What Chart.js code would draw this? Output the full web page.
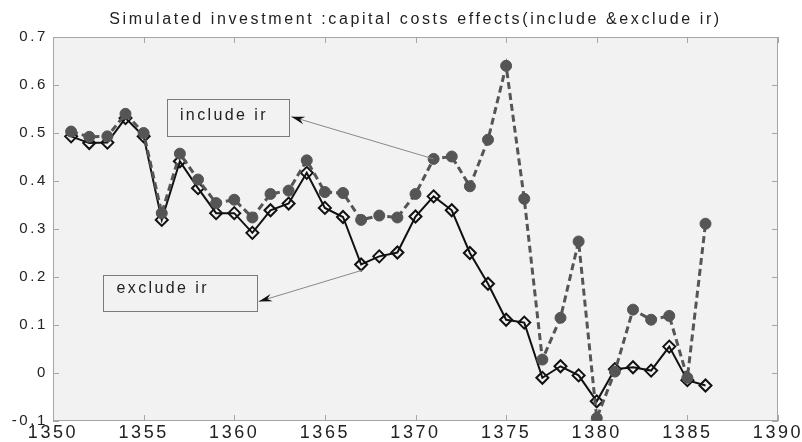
<!DOCTYPE html>
<html>
<head>
<meta charset="utf-8">
<script src="https://cdn.jsdelivr.net/npm/chart.js@4.4.0/dist/chart.umd.min.js"></script>
<style>
  html, body { margin: 0; padding: 0; background: #fff; }
  #wrap { width: 802px; height: 442px; }
</style>
</head>
<body>
<div id="wrap"><canvas id="mycanvas"></canvas></div>
<script>
var years = [1351, 1352, 1353, 1354, 1355, 1356, 1357, 1358, 1359, 1360, 1361, 1362,
             1363, 1364, 1365, 1366, 1367, 1368, 1369, 1370, 1371, 1372, 1373, 1374,
             1375, 1376, 1377, 1378, 1379, 1380, 1381, 1382, 1383, 1384, 1385, 1386];
var includeIr = [0.503, 0.492, 0.493, 0.540, 0.500, 0.333, 0.457, 0.403, 0.354, 0.361, 0.324, 0.373,
                 0.380, 0.443, 0.377, 0.375, 0.319, 0.328, 0.324, 0.373, 0.446, 0.451, 0.389, 0.486,
                 0.640, 0.363, 0.028, 0.115, 0.274, -0.094, 0.003, 0.132, 0.111, 0.119, -0.010, 0.311];
var excludeIr = [0.493, 0.479, 0.480, 0.531, 0.493, 0.319, 0.441, 0.385, 0.333, 0.333, 0.292, 0.339,
                 0.353, 0.417, 0.344, 0.325, 0.226, 0.243, 0.251, 0.326, 0.368, 0.339, 0.250, 0.186,
                 0.111, 0.105, -0.010, 0.014, -0.005, -0.059, 0.008, 0.012, 0.005, 0.055, -0.015, -0.026];
var xTicks = [1350, 1355, 1360, 1365, 1370, 1375, 1380, 1385, 1390];
var yTicks = [-0.1, 0, 0.1, 0.2, 0.3, 0.4, 0.5, 0.6, 0.7];
var titleText = "Simulated investment :capital costs effects(include &exclude ir)";

// text boxes with arrows, in data units
var notes = [
    { text: "include ir", box: [1356.3, 0.571, 1363.05, 0.494], textAt: [1357.0, 0.537],
      from: [1371, 0.446], to: [1363.15, 0.534] },
    { text: "exclude ir", box: [1352.75, 0.205, 1361.27, 0.130], textAt: [1353.5, 0.175],
      from: [1367.05, 0.214], to: [1361.35, 0.149] }
];

function pairs(vals) {
    return years.map(function (y, i) { return { x: y, y: vals[i] }; });
}

var fam = "'Liberation Sans', Arial, sans-serif";

// wide-set lettering like the original; x labels and title get their own spacing
var spacing = {
    id: "spacing",
    beforeDraw: function (chart) { chart.ctx.letterSpacing = "2.6px"; }
};

var frame = {
    id: "frame",
    beforeDatasetsDraw: function (chart) {
        var c = chart.ctx, a = chart.chartArea;
        var xs = chart.scales.x, ys = chart.scales.y;
        c.save();
        c.fillStyle = "#f2f2f2";
        c.fillRect(a.left, a.top, a.right - a.left, a.bottom - a.top);
        c.strokeStyle = "#a6a6a6";
        c.lineWidth = 1;
        c.strokeRect(a.left + 0.5, a.top + 0.5, a.right - a.left - 1, a.bottom - a.top - 1);
        c.beginPath();
        xTicks.forEach(function (t) {
            var px = Math.round(xs.getPixelForValue(t)) + 0.5;
            c.moveTo(px, a.bottom); c.lineTo(px, a.bottom - 6);
            c.moveTo(px, a.top); c.lineTo(px, a.top + 6);
        });
        yTicks.forEach(function (t) {
            var py = Math.round(ys.getPixelForValue(t)) + 0.5;
            c.moveTo(a.left, py); c.lineTo(a.left + 6, py);
            c.moveTo(a.right, py); c.lineTo(a.right - 6, py);
        });
        c.stroke();
        c.restore();
    },
    afterDatasetsDraw: function (chart) {
        var c = chart.ctx;
        var xs = chart.scales.x, ys = chart.scales.y;
        c.save();
        c.letterSpacing = "2.4px";
        notes.forEach(function (n) {
            var x0 = xs.getPixelForValue(n.box[0]), y0 = ys.getPixelForValue(n.box[1]);
            var x1 = xs.getPixelForValue(n.box[2]), y1 = ys.getPixelForValue(n.box[3]);
            c.strokeStyle = "#7a7a7a";
            c.lineWidth = 1;
            c.strokeRect(Math.round(x0) + 0.5, Math.round(y0) + 0.5, Math.round(x1 - x0), Math.round(y1 - y0));
            c.fillStyle = "#222";
            c.font = "16px " + fam;
            c.textBaseline = "middle";
            c.textAlign = "left";
            c.fillText(n.text, xs.getPixelForValue(n.textAt[0]), ys.getPixelForValue(n.textAt[1]));
            // arrow
            var fx = xs.getPixelForValue(n.from[0]), fy = ys.getPixelForValue(n.from[1]);
            var tx = xs.getPixelForValue(n.to[0]), ty = ys.getPixelForValue(n.to[1]);
            c.strokeStyle = "#888";
            c.beginPath(); c.moveTo(fx, fy); c.lineTo(tx, ty); c.stroke();
            var ang = Math.atan2(ty - fy, tx - fx);
            c.fillStyle = "#111";
            c.beginPath();
            c.moveTo(tx, ty);
            c.lineTo(tx - 14 * Math.cos(ang - 0.28), ty - 14 * Math.sin(ang - 0.28));
            c.lineTo(tx - 9 * Math.cos(ang), ty - 9 * Math.sin(ang));
            c.lineTo(tx - 14 * Math.cos(ang + 0.28), ty - 14 * Math.sin(ang + 0.28));
            c.closePath();
            c.fill();
        });
        c.restore();
    }
};

new Chart(document.getElementById("mycanvas"), {
    type: "line",
    data: {
        datasets: [
            {
                label: "include ir",
                data: pairs(includeIr),
                borderColor: "#555555",
                backgroundColor: "#555555",
                borderWidth: 3,
                borderDash: [7, 4],
                pointStyle: "circle",
                pointRadius: 5.5,
                pointBorderWidth: 1,
                pointBorderColor: "#555555",
                pointBackgroundColor: "#555555",
                tension: 0
            },
            {
                label: "exclude ir",
                data: pairs(excludeIr),
                borderColor: "#111111",
                borderWidth: 2,
                pointStyle: "rectRot",
                pointRadius: 6,
                pointBorderWidth: 2,
                pointBorderColor: "#111111",
                pointBackgroundColor: "rgba(242,242,242,0)",
                tension: 0
            }
        ]
    },
    options: {
        responsive: true,
        maintainAspectRatio: false,
        animation: false,
        layout: { padding: { top: 0, right: 24, left: 0, bottom: 0 } },
        plugins: {
            legend: { display: false },
            tooltip: { enabled: false },
            title: {
                display: true,
                fullSize: false,
                text: titleText,
                color: "#222",
                font: { family: fam, size: 16, weight: "normal" },
                padding: { top: 10, bottom: 7.8 }
            }
        },
        scales: {
            x: {
                type: "linear",
                min: 1350,
                max: 1390,
                grid: { display: false, drawTicks: false },
                border: { display: false },
                afterBuildTicks: function (s) { s.ticks = xTicks.map(function (v) { return { value: v }; }); },
                afterFit: function (s) { s.height = 21; },
                ticks: {
                    color: "#222",
                    font: { family: fam, size: 18 },
                    padding: 1,
                    maxRotation: 0,
                    autoSkip: false,
                    callback: function (v) { return String(v); }
                }
            },
            y: {
                min: -0.1,
                max: 0.7,
                grid: { display: false, drawTicks: false },
                border: { display: false },
                afterBuildTicks: function (s) { s.ticks = yTicks.map(function (v) { return { value: v }; }); },
                afterFit: function (s) { s.width = 53; },
                ticks: {
                    color: "#222",
                    font: { family: fam, size: 15 },
                    padding: 5,
                    callback: function (v) { return Math.abs(v) < 1e-9 ? "0" : String(Math.round(v * 10) / 10); }
                }
            }
        }
    },
    plugins: [spacing, frame]
});
</script>
</body>
</html>
